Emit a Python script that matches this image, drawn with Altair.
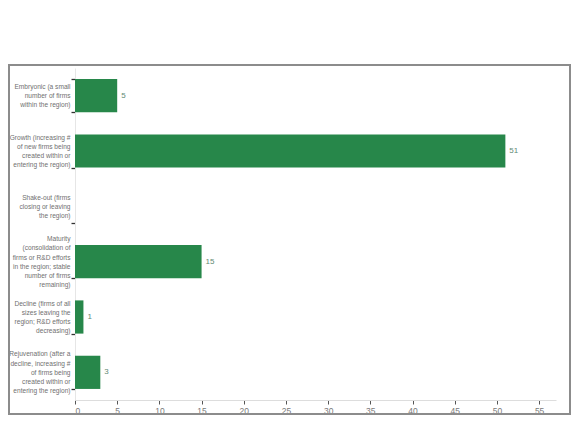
import altair as alt
import pandas as pd

categories = [
    "Embryonic (a small|number of firms|within the region)",
    "Growth (increasing #|of new firms being|created within or|entering the region)",
    "Shake-out (firms|closing or leaving|the region)",
    "Maturity|(consolidation of|firms or R&D efforts|in the region; stable|number of firms|remaining)",
    "Decline (firms of all|sizes leaving the|region; R&D efforts|decreasing)",
    "Rejuvenation (after a|decline, increasing #|of firms being|created within or|entering the region)",
]
counts = [5, 51, 0, 15, 1, 3]
x_ticks = list(range(0, 60, 5))

df = pd.DataFrame({"stage": categories, "count": counts})

W, H = 481, 332
FONT = "Liberation Sans"
LH = 9.3

label_offset = {
    "condition": [
        {"test": f"length(split(datum.label, '|')) == {n}", "value": -(n - 1) * LH / 2}
        for n in (2, 3, 4, 5, 6)
    ],
    "value": 0,
}

y_enc = alt.Y(
    "stage:N",
    sort=categories,
    title=None,
    scale=alt.Scale(paddingInner=0.4, paddingOuter=0.2),
    axis=alt.Axis(
        labelExpr="split(datum.label, '|')",
        labelFont=FONT,
        labelFontSize=6.6,
        labelLineHeight=LH,
        labelColor="#707070",
        labelAlign="right",
        labelBaseline="middle",
        labelPadding=1,
        labelLimit=0,
        labelOffset=label_offset,
        tickBand="extent",
        tickSize=4,
        tickColor="#333333",
        tickWidth=1.3,
        domainColor="#e6e6e6",
    ),
)
x_enc = alt.X(
    "count:Q",
    title=None,
    scale=alt.Scale(domain=[0, 57], nice=False),
    axis=alt.Axis(
        values=x_ticks,
        grid=False,
        labelFont=FONT,
        labelFontSize=8.5,
        labelColor="#7a7a7a",
        tickSize=4,
        tickColor="#555555",
        domainColor="#dddddd",
        labelPadding=2,
    ),
)

bars = alt.Chart(df).mark_bar(color="#27874a").encode(y=y_enc, x=x_enc)

text = (
    alt.Chart(df)
    .transform_filter("datum.count > 0")
    .mark_text(align="left", baseline="middle", dx=4, font=FONT, fontSize=8, color="#5f8a74")
    .encode(y=alt.Y("stage:N", sort=categories), x="count:Q", text="count:Q")
)

frame = (
    alt.Chart(pd.DataFrame({"k": [0]}))
    .mark_rect(fill=None, stroke="#8c8c8c", strokeWidth=2)
    .encode(
        x=alt.value(-66), x2=alt.value(495),
        y=alt.value(-3), y2=alt.value(346),
    )
)

chart = (
    alt.layer(bars, text, frame)
    .properties(
        width=W,
        height=H,
        autosize=alt.AutoSizeParams(type="none"),
        padding={"left": 67, "top": 60, "right": 16, "bottom": 15},
    )
    .configure_view(stroke=None)
)

chart.save("out.html", embed_options={"renderer": "svg", "actions": False})
